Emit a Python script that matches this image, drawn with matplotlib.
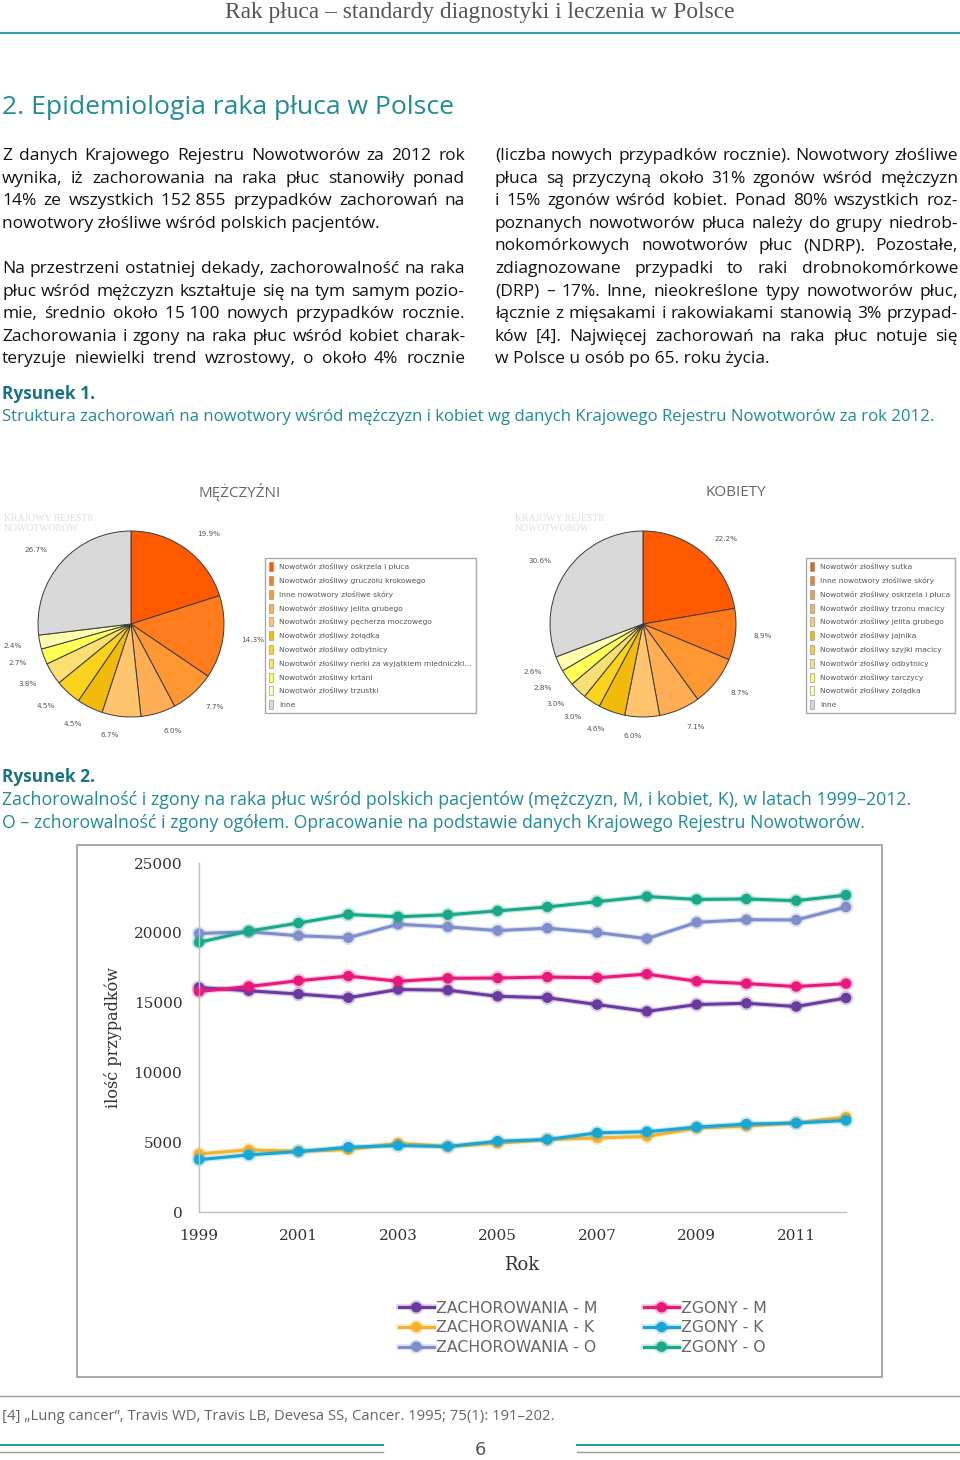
import matplotlib
matplotlib.use("Agg")
import matplotlib.pyplot as plt
import matplotlib.transforms as mtransforms
import matplotlib.patheffects as pe
from matplotlib.patches import Patch, Rectangle
from matplotlib.lines import Line2D

W, H = 960, 1460

# --- Rysunek 2: line chart data ---
years = list(range(1999, 2013))
zach_m = [16080, 15850, 15610, 15350, 15940, 15890, 15450, 15350, 14860, 14370, 14860, 14950, 14720, 15330]
zach_k = [4160, 4450, 4350, 4470, 4930, 4690, 4930, 5190, 5310, 5410, 6010, 6150, 6390, 6800]
zach_o = [19950, 20070, 19790, 19650, 20610, 20420, 20160, 20330, 20020, 19580, 20750, 20940, 20920, 21850]
zgony_m = [15800, 16150, 16570, 16900, 16530, 16740, 16760, 16830, 16780, 17040, 16530, 16360, 16150, 16360]
zgony_k = [3750, 4090, 4330, 4640, 4760, 4690, 5070, 5190, 5670, 5750, 6080, 6300, 6370, 6560]
zgony_o = [19320, 20120, 20700, 21310, 21150, 21290, 21570, 21850, 22230, 22600, 22390, 22420, 22300, 22700]
series_names = ["ZACHOROWANIA - M", "ZACHOROWANIA - K", "ZACHOROWANIA - O",
                "ZGONY - M", "ZGONY - K", "ZGONY - O"]
y_ticks = [0, 5000, 10000, 15000, 20000, 25000]

# --- Rysunek 1: pie chart data ---
men_labels = ["Nowotwór złośliwy oskrzela i płuca", "Nowotwór złośliwy gruczołu krokowego",
              "Inne nowotwory złośliwe skóry", "Nowotwór złośliwy jelita grubego",
              "Nowotwór złośliwy pęcherza moczowego", "Nowotwór złośliwy żołądka",
              "Nowotwór złośliwy odbytnicy", "Nowotwór złośliwy nerki za wyjątkiem miedniczki...",
              "Nowotwór złośliwy krtani", "Nowotwór złośliwy trzustki", "Inne"]
men_values = [19.9, 14.3, 7.7, 6.0, 6.7, 4.5, 4.5, 3.8, 2.7, 2.4, 26.7]
women_labels = ["Nowotwór złośliwy sutka", "Inne nowotwory złośliwe skóry",
                "Nowotwór złośliwy oskrzela i płuca", "Nowotwór złośliwy trzonu macicy",
                "Nowotwór złośliwy jelita grubego", "Nowotwór złośliwy jajnika",
                "Nowotwór złośliwy szyjki macicy", "Nowotwór złośliwy odbytnicy",
                "Nowotwór złośliwy tarczycy", "Nowotwór złośliwy żołądka", "Inne"]
women_values = [22.2, 8.9, 8.7, 7.1, 6.0, 4.6, 3.0, 3.0, 2.8, 2.6, 30.6]

pie_colors = ["#ff5a00", "#ff7b1c", "#ff9733", "#ffae55", "#ffc46e", "#f2bb0c",
              "#fbd21c", "#fadf72", "#ffff55", "#ffffad", "#d9d9d9"]
line_colors = ["#6b3a9e", "#f7b12a", "#7f8fcc", "#e8197a", "#18a6d6", "#1aa88a"]

# --- page text ---
left_col = [
    ["Z danych Krajowego Rejestru Nowotworów za 2012 rok",
     "wynika, iż zachorowania na raka płuc stanowiły ponad",
     "14% ze wszystkich 152\u00a0855 przypadków zachorowań na",
     "nowotwory złośliwe wśród polskich pacjentów."],
    ["Na przestrzeni ostatniej dekady, zachorowalność na raka",
     "płuc wśród mężczyzn kształtuje się na tym samym pozio-",
     "mie, średnio około 15\u00a0100 nowych przypadków rocznie.",
     "Zachorowania i zgony na raka płuc wśród kobiet charak-",
     "teryzuje niewielki trend wzrostowy, o około 4% rocznie"],
]
right_col = [
    ["(liczba nowych przypadków rocznie). Nowotwory złośliwe",
     "płuca są przyczyną około 31% zgonów wśród mężczyzn",
     "i 15% zgonów wśród kobiet. Ponad 80% wszystkich roz-",
     "poznanych nowotworów płuca należy do grupy niedrob-",
     "nokomórkowych nowotworów płuc (NDRP). Pozostałe,",
     "zdiagnozowane przypadki to raki drobnokomórkowe",
     "(DRP) – 17%. Inne, nieokreślone typy nowotworów płuc,",
     "łącznie z mięsakami i rakowiakami stanowią 3% przypad-",
     "ków [4]. Najwięcej zachorowań na raka płuc notuje się",
     "w Polsce u osób po 65. roku życia."],
]

TEAL = "#1f8c96"
TEAL_DARK = "#187480"

fig = plt.figure(figsize=(W / 100, H / 100), dpi=100)
px = mtransforms.Affine2D().scale(1 / W, -1 / H).translate(0, 1) + fig.transFigure
renderer = fig.canvas.get_renderer()


def text(x, y, s, fit=None, **kw):
    t = fig.text(x, y, s, transform=px, **kw)
    if fit:
        ext = t.get_window_extent(renderer)
        t.set_fontsize(t.get_fontsize() * fit / max(ext.width, ext.height))
    return t


def justify(paragraph, x0, x1, y0, step, last_full=False, **kw):
    for i, line in enumerate(paragraph):
        y = y0 + i * step
        if i == len(paragraph) - 1 and not last_full:
            text(x0, y, line, **kw)
            continue
        words = line.split(" ")
        ts = [text(0, y, w, **kw) for w in words]
        widths = [t.get_window_extent(renderer).width for t in ts]
        gap = (x1 - x0 - sum(widths)) / (len(words) - 1)
        x = x0
        for t, w in zip(ts, widths):
            t.set_x(x)
            x += w + gap


def hline(x0, x1, y, **kw):
    fig.add_artist(Line2D([x0, x1], [y, y], transform=px, **kw))


# header
text(480, 18, "Rak płuca – standardy diagnostyki i leczenia w Polsce", fit=513,
     ha="center", va="baseline", family="Liberation Serif", color="#555555", fontsize=14)
hline(0, 960, 33, color="#3a9ea6", lw=1.6)

text(2, 107, "2. Epidemiologia raka płuca w Polsce", fit=451, ha="left", va="center",
     family="Open Sans", color=TEAL, fontsize=18)

body = dict(family="Open Sans", fontsize=12.5, color="#111111", va="baseline")
justify(left_col[0], 2, 465, 160, 22.6, **body)
justify(left_col[1], 2, 465, 273, 22.6, last_full=True, **body)
justify(right_col[0], 495, 958, 160, 22.6, **body)

# Rysunek 1
text(2, 394, "Rysunek 1.", ha="left", va="center", family="Open Sans", fontweight="bold",
     color=TEAL_DARK, fontsize=12.5)
text(2, 417, "Struktura zachorowań na nowotwory wśród mężczyzn i kobiet wg danych "
     "Krajowego Rejestru Nowotworów za rok 2012.", fit=936, ha="left", va="center",
     family="Open Sans", color=TEAL, fontsize=11)

text(240, 492, "MĘŻCZYŹNI", ha="center", va="center", family="Open Sans", color="#666666",
     fontsize=11)
text(736, 492, "KOBIETY", ha="center", va="center", family="Open Sans", color="#666666",
     fontsize=11)


def pie_panel(cx, cy, r, values, labels, legend_box, mark_x):
    ax = fig.add_axes([(cx - r) / W, 1 - (cy + r) / H, 2 * r / W, 2 * r / H])
    ax.pie(values, colors=pie_colors, startangle=90, counterclock=False,
           labels=[f"{v:.1f}%" for v in values], labeldistance=1.2,
           textprops=dict(fontsize=5.2, color="#555555", family="DejaVu Sans"),
           wedgeprops=dict(edgecolor="#3a3a3a", linewidth=0.7))
    ax.set_xlim(-1, 1)
    ax.set_ylim(-1, 1)
    text(mark_x, 514, "KRAJOWY REJESTR\nNOWOTWORÓW", ha="left", va="top",
         family="Liberation Serif", fontsize=7, color="#dedede", linespacing=1.1)
    handles = [Patch(facecolor=c, edgecolor="#888888", lw=0.4) for c in pie_colors]
    x0, y0, x1, y1 = legend_box
    fig.legend(handles, labels, loc="upper left", mode="expand",
               bbox_to_anchor=(x0 / W, 1 - y1 / H, (x1 - x0) / W, (y1 - y0) / H),
               bbox_transform=fig.transFigure, borderaxespad=0, fancybox=False,
               edgecolor="#aaaaaa", framealpha=1, prop=dict(size=5.4, family="DejaVu Sans"),
               labelcolor="#555555", handlelength=0.55, handleheight=1.5,
               handletextpad=0.8, labelspacing=0.62, borderpad=0.55)


pie_panel(131, 624, 93, men_values, men_labels, (265, 558, 476, 706), 4)
pie_panel(643, 624, 93, women_values, women_labels, (806, 558, 955, 706), 515)

# Rysunek 2
text(2, 777, "Rysunek 2.", ha="left", va="center", family="Open Sans", fontweight="bold",
     color=TEAL_DARK, fontsize=12.5)
text(2, 800, "Zachorowalność i zgony na raka płuc wśród polskich pacjentów (mężczyzn, M, "
     "i kobiet, K), w latach 1999–2012.", fit=906, ha="left", va="center",
     family="Open Sans", color=TEAL, fontsize=11)
text(2, 823, "O – zchorowalność i zgony ogółem. Opracowanie na podstawie danych "
     "Krajowego Rejestru Nowotworów.", fit=864, ha="left", va="center",
     family="Open Sans", color=TEAL, fontsize=11)

fig.add_artist(Rectangle((77 / W, 1 - 1377 / H), (882 - 77) / W, (1377 - 845) / H,
                         transform=fig.transFigure, fill=False, edgecolor="#999999", lw=1.2))

ax = fig.add_axes([199 / W, 1 - 1212 / H, (846 - 199) / W, (1212 - 863) / H])
all_series = [zach_m, zach_k, zach_o, zgony_m, zgony_k, zgony_o]
for vals, name, col in zip(all_series, series_names, line_colors):
    ax.plot(years, vals, color=col, lw=2.2, marker="o", markersize=6.5, label=name,
            clip_on=False,
            path_effects=[pe.Stroke(linewidth=4, foreground=col, alpha=0.25), pe.Normal()])
ax.set_xlim(1999, 2012)
ax.set_ylim(0, 25000)
ax.set_yticks(y_ticks)
ax.set_xticks(years[::2])
ax.tick_params(length=0, labelsize=11, labelcolor="#333333")
ax.tick_params(axis="y", pad=12)
ax.tick_params(axis="x", pad=12)
for lab in ax.get_xticklabels() + ax.get_yticklabels():
    lab.set_family("DejaVu Serif")
for s in ["top", "right"]:
    ax.spines[s].set_visible(False)
for s in ["left", "bottom"]:
    ax.spines[s].set_color("#c0c0c0")
    ax.spines[s].set_linewidth(1)
ax.patch.set_alpha(0)

text(113, 1038, "ilość przypadków", fit=140, rotation=90, ha="center", va="center",
     family="DejaVu Serif", color="#333333", fontsize=13)
text(522, 1265, "Rok", ha="center", va="center", family="DejaVu Serif", color="#333333",
     fontsize=13)

fig.legend(*ax.get_legend_handles_labels(), ncols=2, loc="center",
           bbox_to_anchor=(583 / W, 1 - 1328 / H), bbox_transform=fig.transFigure,
           frameon=False, prop=dict(family="Liberation Sans Narrow", size=11.3),
           labelcolor="#666666", handlelength=2.2, handletextpad=0.15,
           columnspacing=3.0, labelspacing=0.3)

# footer
hline(0, 960, 1396, color="#999999", lw=1)
text(2, 1417, "[4] \u201eLung cancer\u201d, Travis WD, Travis LB, Devesa SS, Cancer. 1995; "
     "75(1): 191–202.", fit=551, ha="left", va="center", family="Open Sans",
     color="#666666", fontsize=10)
hline(0, 383, 1445, color="#2a9a9a", lw=1.5)
hline(577, 960, 1445, color="#2a9a9a", lw=1.5)
hline(0, 383, 1452, color="#999999", lw=1)
hline(577, 960, 1452, color="#999999", lw=1)
text(480, 1450, "6", ha="center", va="center", family="Liberation Sans Narrow",
     color="#555555", fontsize=13)

fig.savefig("out.png", dpi=100)
